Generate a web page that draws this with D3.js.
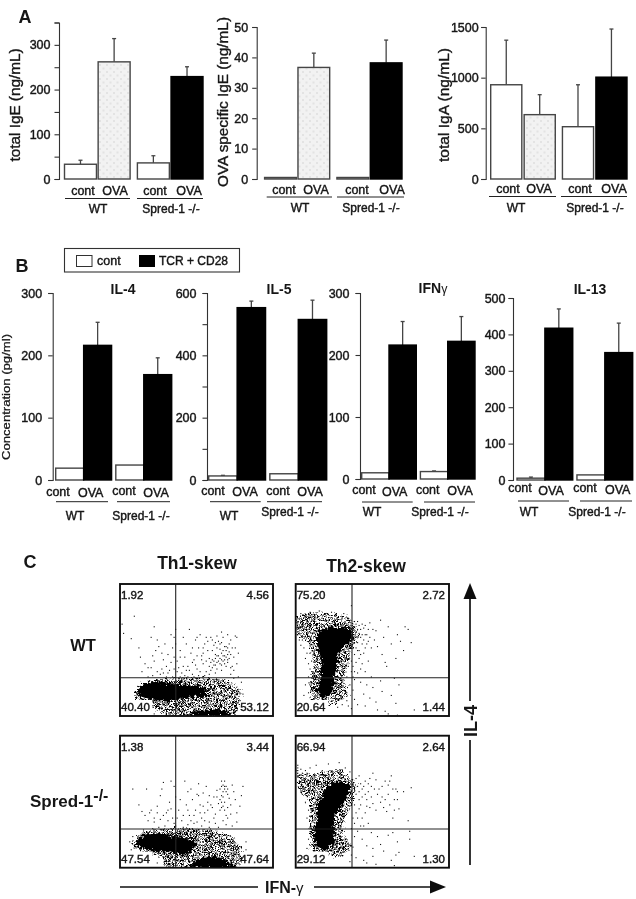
<!DOCTYPE html>
<html><head><meta charset="utf-8">
<style>html,body{margin:0;padding:0;background:#fff}svg{display:block}text{font-family:"Liberation Sans",Arial,sans-serif;fill:#151515}</style>
<script src="https://cdnjs.cloudflare.com/ajax/libs/d3/7.8.5/d3.min.js"></script>
</head><body><svg id="fig" width="636" height="899"></svg>
<script>
// ---------- values ----------
const groups = ["WT", "Spred-1 -/-"];
const treatments = ["cont", "OVA"];

const totalIgE      = [33, 262, 36, 229];
const totalIgEErr   = [42, 314, 52, 251];
const ovaIgE        = [0.5, 36.7, 0.5, 38.2];
const ovaIgEErr     = [0.5, 41.4, 0.5, 45.7];
const totalIgA      = [930, 635, 516, 1005];
const totalIgAErr   = [1370, 832, 930, 1480];
const il4           = [19, 216, 24, 169];
const il4Err        = [19, 253, 24, 196];
const il5           = [13, 553, 20, 515];
const il5Err        = [15, 574, 20, 577];
const ifng          = [10, 216, 12, 222];
const ifngErr       = [10, 254, 13, 262];
const il13          = [5, 417, 14, 350];
const il13Err       = [8, 470, 14, 431];

const quadWtTh1 = ["1.92", "4.56", "40.40", "53.12"];
const quadWtTh2 = ["75.20", "2.72", "20.64", "1.44"];
const quadKoTh1 = ["1.38", "3.44", "47.54", "47.64"];
const quadKoTh2 = ["66.94", "2.64", "29.12", "1.30"];

// flow cytometry events, x = IFN-gamma %, y = IL-4 % of the plot
const wtTh1Dots = [[1,70],[9,76],[2,63],[7,59],[12,52],[13,45],[16,40],[18,37],[20,37],[22,42],[21,46],[23,50],[25,53],[22,68],[20,60],[24,58],[27,48],[28,43],[30,38],[32,35],[33,41],[31,47],[34,52],[35,45],[36,55],[35,60],[30,30],[26,32],[21,31],[18,30],[14,34],[27,36],[29,55],[33,62],[36,66],[37,42],[38,37],[39,50],[40,33],[41,60],[42,45],[43,55],[44,38],[45,66],[46,48],[47,32],[48,43],[49,58],[50,36],[51,52],[52,62],[53,46],[54,40],[55,55],[56,34],[57,50],[58,44],[59,60],[60,37],[61,54],[62,47],[63,41],[64,57],[65,51],[66,35],[67,60],[68,46],[69,53],[70,43],[71,49],[72,58],[73,38],[74,45],[75,52],[76,60],[77,48],[61,42],[62,39],[64,46],[65,44],[66,48],[67,42],[68,40],[69,38],[70,47],[63,52],[66,56],[60,50],[58,38],[56,60],[54,48],[52,34],[48,30],[44,30],[77,30],[79,26],[80,17],[78,12],[81,8],[9,7],[12,5],[18,3],[22,2],[8,12],[28,3],[34,1],[39,30],[55,31],[72,32],[74,29],[42,31],[66,64],[70,62],[75,61],
 [59,41],[60,43],[61,39],[62,44],[63,46],[64,42],[65,40],[66,43],[67,46],[68,43],[69,45],[70,41],[71,44],[72,47],[67,50],[68,53],[69,50],[70,52],[71,55],[73,52],[62,56],[65,55],[60,58],[63,61],[57,57],[54,52],[53,43],[50,46],[49,39],[47,41],[45,35],[41,38],[37,34],[35,36],[31,33],[28,33],[24,34],[39,45],[43,35],[47,52],[50,60],[56,42],[59,35],[63,36],[66,39],[72,37],[74,35],[76,40],[58,32],[62,33],[51,31],[38,29],[34,30]];
const wtTh2Dots = [[1,62],[1,64],[1,66],[1,68],[1,70],[1,72],[1,74],[0.5,67],[0.5,71],[3,78],[6,76],[9,79],[12,74],[15,80],[19,78],[23,79],[27,75],[31,78],[34,74],[36,84],[38,72],[39,70],[40,66],[41,63],[42,60],[44,67],[43,55],[45,52],[46,62],[47,57],[48,71],[44,48],[40,50],[41,44],[43,40],[42,36],[45,34],[40,33],[47,42],[51,58],[52,65],[53,53],[55,73],[57,60],[56,47],[58,41],[60,68],[62,55],[65,44],[66,62],[68,57],[70,50],[73,66],[49,30],[42,26],[46,24],[50,22],[44,17],[48,14],[52,11],[38,28],[37,20],[38,13],[36,6],[40,9],[45,8],[53,5],[56,19],[58,4],[60,2],[62,16],[65,10],[66,1],[55,27],[64,29],[33,12],[31,20],[35,24],[30,9],[27,7],[4,58],[5,52],[7,48],[6,44],[8,40],[9,36],[8,30],[6,24],[5,16],[6,10],[71,68],[75,56],[77,5],[67,24],[59,38],
 [38,68],[39,64],[39,60],[40,72],[41,69],[42,66],[43,62],[43,70],[44,58],[45,62],[45,69],[46,55],[47,66],[48,60],[49,52],[50,66],[38,56],[39,52],[40,56],[41,50],[42,47],[38,47],[39,41],[37,38],[36,34],[38,34],[37,30],[2,74],[4,72],[5,75],[7,72],[8,78],[10,72],[3,68],[6,66],[2,58],[3,54],[9,60],[10,52],[11,47],[10,42],[11,34],[12,28],[33,30],[34,38],[33,44],[36,42],[33,18],[34,8],[30,15],[8,18],[9,12],[7,7],[10,5]];
const koTh1Dots = [[8,60],[17,60],[12,48],[14,43],[16,40],[18,36],[20,44],[22,38],[24,47],[26,55],[27,60],[28,65],[30,42],[31,36],[32,50],[33,45],[34,38],[35,62],[33,66],[36,54],[36,32],[38,44],[39,52],[42,66],[44,58],[43,48],[45,40],[46,60],[47,52],[48,34],[49,44],[50,56],[51,64],[52,48],[53,38],[54,57],[55,42],[56,62],[57,50],[58,35],[60,46],[61,54],[62,41],[63,59],[64,49],[65,44],[66,55],[66,66],[67,36],[68,50],[68,60],[69,62],[70,46],[71,53],[72,41],[73,63],[74,58],[75,52],[76,35],[78,47],[79,55],[80,62],[67,58],[67,54],[66,50],[68,44],[69,40],[68,66],[70,56],[70,38],[47,30],[41,31],[29,32],[25,31],[21,30],[15,29],[82,20],[82,14],[79,8],[84,5],[7,14],[9,9],[12,6],[20,8],[24,4],[8,24],[6,20],
 [65,60],[66,62],[67,63],[68,62],[69,58],[70,60],[66,46],[67,47],[65,52],[63,54],[59,48],[58,55],[57,44],[55,36],[52,42],[50,35],[48,40],[46,36],[44,44],[41,40],[40,36],[37,38],[35,34],[31,44],[28,40],[26,37],[24,42],[22,35],[19,42],[51,55],[54,47],[61,38],[62,34],[73,32],[69,33],[64,31],[58,31],[53,32],[44,33],[33,30],[76,42],[72,48]];
const koTh2Dots = [[1,70],[1,72],[1,74],[1,76],[1,78],[0.5,74],[3,75],[2,66],[5,68],[7,72],[9,76],[13,78],[17,74],[21,79],[24,73],[28,80],[32,76],[35,73],[39,68],[41,70],[42,64],[43,60],[45,66],[47,58],[46,52],[49,62],[48,46],[45,42],[43,38],[41,45],[50,72],[52,67],[53,56],[55,50],[56,62],[58,66],[59,43],[60,56],[61,48],[62,70],[63,38],[64,44],[65,60],[66,52],[70,58],[75,61],[73,36],[74,28],[47,34],[44,32],[49,27],[53,24],[50,15],[46,17],[43,22],[55,18],[57,13],[60,25],[63,27],[40,28],[38,24],[37,16],[36,10],[39,8],[35,5],[44,6],[46,4],[50,9],[52,3],[62,6],[64,2],[65,10],[67,12],[77,9],[83,10],[74,22],[66,20],[4,56],[6,50],[8,44],[7,38],[9,30],[8,22],[7,15],[34,19],[31,12],
 [38,60],[39,56],[40,62],[41,52],[41,58],[42,48],[43,54],[44,62],[45,56],[46,47],[47,64],[48,68],[49,54],[50,49],[51,60],[52,44],[54,60],[56,54],[57,46],[58,52],[60,63],[61,66],[63,60],[64,52],[66,58],[67,45],[38,48],[39,42],[37,38],[38,34],[40,38],[42,32],[36,30],[3,62],[5,60],[6,64],[8,58],[10,54],[11,60],[4,72],[6,74]];

// dense populations, outlines in the same units
const wtTh1Core = [[[10,18],[14,24],[22,26.5],[32,25],[40,24],[50,23],[58,20],[56,15],[45,14],[36,12],[26,11],[16,13]],[[45,0],[72,0],[70,4],[60,5],[48,3]]];
const wtTh1Haze = [[[9,14],[14,25],[26,28],[50,29],[70,27],[79,20],[78,8],[74,0],[30,0],[26,4],[14,8]]];
const wtTh2Core = [[[13.7,64],[22,67],[36.5,66.5],[37.6,59],[29,50],[25.6,32],[24.6,22],[24.6,16],[17,14],[13,19.5],[16,27],[17,40],[14,52.5]]];
const wtTh2Haze = [[[1,76],[15,79],[35,75],[41,62],[36,47],[31,28],[35,16],[24,8],[10,12],[9,25],[12,40],[8,55],[1,62]]];
const koTh1Core = [[[8.7,18],[15,25],[26,26],[35,23.5],[48,22],[50,17],[43,10],[30,12],[17.4,13.4]],[[45,0],[76,0],[70,5],[60,9],[50,6]]];
const koTh1Haze = [[[7,17],[15,27],[35,30],[60,29],[72,24],[79,16],[80,5],[77,0],[30,0],[28,8],[15,11]]];
const koTh2Core = [[[25.6,66],[36.5,62.6],[34,55],[25.6,38.6],[24.6,28.5],[25.6,18.4],[19,13],[12.6,17],[11.5,25],[14,33.6],[13.7,46],[20,61]]];
const koTh2Haze = [[[1,72],[12,71],[28,75],[40,65],[38,52],[30,32],[36,15],[28,8],[10,12],[9,30],[10,48],[3,58]]];

// ---------- layout ----------
const svg = d3.select("#fig");
const defs = svg.append("defs");
defs.append("filter").attr("id","soft").attr("x",0).attr("y",0).attr("width",1).attr("height",1)
  .append("feGaussianBlur").attr("stdDeviation",0.42);
const rough = defs.append("filter").attr("id","rough").attr("x","-5%").attr("y","-5%").attr("width","110%").attr("height","110%");
rough.append("feTurbulence").attr("type","fractalNoise").attr("baseFrequency",0.38).attr("numOctaves",2).attr("seed",4).attr("result","n");
rough.append("feDisplacementMap").attr("in","SourceGraphic").attr("in2","n").attr("scale",9).attr("xChannelSelector","R").attr("yChannelSelector","G");

const stippleA = [[0,0],[3,1],[6,0],[10,1],[13,0],[1,3],[5,3],[8,2],[11,3],[14,3],[2,5],[4,6],[7,5],[9,6],[12,5],[0,7],[3,8],[6,8],[10,8],[14,7],[1,10],[5,10],[8,10],[12,10],[15,10],[3,12],[6,13],[9,12],[13,12],[0,13],[2,15],[5,15],[8,15],[11,14],[14,15]];
const stippleB = [[1,1],[5,0],[9,2],[2,4],[7,4],[11,5],[0,6],[4,7],[9,8],[12,1],[2,9],[6,10],[11,9]];
function pattern(id,cells,w,h){
  const sp = defs.append("pattern").attr("id",id).attr("patternUnits","userSpaceOnUse").attr("width",w).attr("height",h);
  sp.selectAll("rect").data(cells).join("rect").attr("x",d=>d[0]).attr("y",d=>d[1]).attr("width",1.5).attr("height",1.5).attr("fill","#000");
}
pattern("stipA",stippleA,16,16);
pattern("stipB",stippleB,13,11);
const gp = defs.append("pattern").attr("id","ovaFill").attr("patternUnits","userSpaceOnUse").attr("width",7).attr("height",7);
gp.append("rect").attr("width",7).attr("height",7).attr("fill","#f2f2f2");
gp.append("rect").attr("x",1).attr("y",1).attr("width",2).attr("height",2).attr("fill","#e3e3e3");
gp.append("rect").attr("x",4.5).attr("y",4.5).attr("width",2).attr("height",2).attr("fill","#e3e3e3");

const root = svg.append("g").attr("filter","url(#soft)");
root.append("rect").attr("width",636).attr("height",899).attr("fill","#fff");

function label(x,y,str,o={}){
  const t = root.append("text").attr("x",x).attr("y",y).text(str)
    .attr("text-anchor",o.anchor||"middle").attr("font-size",o.size||12)
    .attr("font-weight",o.weight||"normal")
    .style("stroke","#151515").style("stroke-width",o.stroke==null?0.4:o.stroke);
  if(o.len) t.attr("textLength",o.len).attr("lengthAdjust","spacingAndGlyphs");
  if(o.rot) t.attr("transform",`rotate(${o.rot} ${x} ${y})`);
  return t;
}

const panels = [
 {vals:totalIgE,err:totalIgEErr,max:350,y:[179,22.5],x:[64.5,203],ticks:d3.range(0,351,50),show:d3.range(0,301,100),axisX:59,pad:4,gap:0.05,ova:1,
  lx:[83,115,155,189],ly:[195,195,195,195],ul:[[65,130],[137,203]],uly:198.5,gx:[98,171],gy:[213,213],
  yl:{t:"total IgE (ng/mL)",x:20,y:105,len:113}},
 {vals:ovaIgE,err:ovaIgEErr,max:50,y:[179,27],x:[264.6,402],ticks:d3.range(0,51,10),show:d3.range(0,51,10),axisX:256.7,pad:4,gap:0.05,ova:1,
  lx:[284,316,357,392],ly:[194,194,194,194],ul:[[266.7,332],[337,404]],uly:197,gx:[300,371],gy:[212,212],
  yl:{t:"OVA specific IgE (ng/mL)",x:228,y:102,len:170}},
 {vals:totalIgA,err:totalIgAErr,max:1500,y:[179,27],x:[490.7,627],ticks:[0,500,1000,1500],show:[0,500,1000,1500],axisX:485.7,pad:2.5,gap:0.07,ova:1,
  lx:[508,539,580,614],ly:[193,193,193,193],ul:[[489,556],[561,627]],uly:196.5,gx:[516,595],gy:[212,212],
  yl:{t:"total IgA (ng/mL)",x:449,y:105,len:114}},
 {vals:il4,err:il4Err,max:300,y:[480,293],x:[55.7,171.7],ticks:[0,100,200,300],show:[0,100,200,300],axisX:52.7,pad:6,gap:0,
  lx:[58,90.7,124,156],ly:[496,497,495,497],ul:[[56,108],[117,170]],uly:501.7,gx:[75,141],gy:[520,520],
  title:{t:"IL-4",x:123,y:294},yl:{t:"Concentration (pg/ml)",x:10,y:397,len:126,size:10.5}},
 {vals:il5,err:il5Err,max:600,y:[480,293],x:[208.7,326.7],ticks:d3.range(0,601,100),show:[0,200,400,600],axisX:207,pad:6,gap:0,
  lx:[213,245,278,310],ly:[495,496,495,496],ul:[[210,260.7],[267,322]],uly:501.7,gx:[229,290],gy:[520,516],
  title:{t:"IL-5",x:279,y:294}},
 {vals:ifng,err:ifngErr,max:300,y:[479,293],x:[361.7,475],ticks:[0,100,200,300],show:[0,100,200,300],axisX:360,pad:6,gap:0,
  lx:[364,394.7,427.7,460],ly:[494,496,494,495],ul:[[362,412.7],[424,475]],uly:502,gx:[372,440],gy:[516,516],
  title:{t:"IFN",sym:"γ",x:433,y:293}},
 {vals:il13,err:il13Err,max:500,y:[480,298],x:[517,632.7],ticks:d3.range(0,501,100),show:d3.range(0,501,100),axisX:513,pad:3,gap:0,
  lx:[520,551,585,617.7],ly:[492,495,492,494],ul:[[518,569],[580,632]],uly:501,gx:[529,597],gy:[516,516],
  title:{t:"IL-13",x:590,y:294}}
];

panels.forEach(p=>{
  const y = d3.scaleLinear().domain([0,p.max]).range(p.y);
  const outer = d3.scaleBand().domain(groups).range(p.x).paddingInner(p.ova?0.1:0.07);
  const inner = d3.scaleBand().domain(treatments).range([0,outer.bandwidth()]).paddingInner(p.gap);
  const g = root.append("g");
  const rows = p.vals.map((v,i)=>({v,e:p.err[i],group:groups[i>>1],tr:treatments[i%2],i}));
  const xOf = d=>outer(d.group)+inner(d.tr);
  g.selectAll("line.e").data(rows.filter(d=>d.e>d.v)).join("line").attr("class","e")
    .attr("x1",d=>xOf(d)+inner.bandwidth()/2).attr("x2",d=>xOf(d)+inner.bandwidth()/2)
    .attr("y1",d=>y(d.v)).attr("y2",d=>y(d.e)).attr("stroke","#444").attr("stroke-width",1.3);
  g.selectAll("line.c").data(rows.filter(d=>d.e>d.v)).join("line").attr("class","c")
    .attr("x1",d=>xOf(d)+inner.bandwidth()/2-2).attr("x2",d=>xOf(d)+inner.bandwidth()/2+2)
    .attr("y1",d=>y(d.e)).attr("y2",d=>y(d.e)).attr("stroke","#444").attr("stroke-width",1.3);
  g.selectAll("rect").data(rows).join("rect")
    .attr("x",d=>xOf(d)).attr("width",inner.bandwidth())
    .attr("y",d=>y(d.v)).attr("height",d=>y(0)-y(d.v))
    .attr("fill",d=>{
      if(d.tr==="cont") return "#fff";
      if(p.ova && d.group===groups[0]) return "url(#ovaFill)";
      return "#000";})
    .attr("stroke",d=>d.tr==="OVA"&&!(p.ova&&d.group===groups[0])?"#000":"#444")
    .attr("stroke-width",1.4);
  const axis = d3.axisLeft(y).tickValues(p.ticks).tickSizeOuter(0).tickSize(4.5).tickPadding(p.pad)
     .tickFormat(d=>p.show.includes(d)?d:"");
  const ga = root.append("g").attr("transform",`translate(${p.axisX},0)`).call(axis);
  ga.selectAll("path,line").attr("stroke","#333").attr("stroke-width",1.1);
  ga.selectAll("text").attr("font-size",12.5).style("font-family",'"Liberation Sans"').style("stroke","#151515").style("stroke-width",0.4);
  rows.forEach((d,i)=>label(p.lx[i],p.ly[i],d.tr,{size:12.5}));
  p.ul.forEach(u=>root.append("line").attr("x1",u[0]).attr("x2",u[1]).attr("y1",p.uly).attr("y2",p.uly).attr("stroke","#222").attr("stroke-width",1));
  groups.forEach((gr,i)=>label(p.gx[i],p.gy[i],gr,{size:12}));
  if(p.title){
    const t = label(p.title.x,p.title.y,p.title.t,{size:14,weight:"bold",stroke:0});
    if(p.title.sym) t.append("tspan").text(p.title.sym).attr("font-weight","normal").attr("font-size",12.5);
  }
  if(p.yl) label(p.yl.x,p.yl.y,p.yl.t,{size:p.yl.size||14,rot:-90,len:p.yl.len,stroke:p.yl.size?0.25:0.35});
});

label(25,23,"A",{size:18,weight:"bold",stroke:0});
label(22,272,"B",{size:18,weight:"bold",stroke:0});
label(30,568,"C",{size:18,weight:"bold",stroke:0});

root.append("rect").attr("x",64.5).attr("y",248.5).attr("width",175).attr("height",23.5).attr("fill","#fff").attr("stroke","#333").attr("stroke-width",1.1);
root.append("rect").attr("x",76.5).attr("y",255.5).attr("width",15.5).attr("height",11).attr("fill","#fff").attr("stroke","#333").attr("stroke-width",1);
root.append("rect").attr("x",139).attr("y",255).attr("width",16).attr("height",12).attr("fill","#000");
label(97,264.5,treatments[0],{anchor:"start",size:12.5});
label(159,264.5,"TCR + CD28",{anchor:"start",size:12});

const flow = [
 {dots:wtTh1Dots,core:wtTh1Core,haze:wtTh1Haze,q:quadWtTh1,x:[120,273],y:[716,584],vx:175.7,hy:677.7,id:"c1"},
 {dots:wtTh2Dots,core:wtTh2Core,haze:wtTh2Haze,q:quadWtTh2,x:[295.7,449],y:[716,584],vx:352,hy:677.7,id:"c2"},
 {dots:koTh1Dots,core:koTh1Core,haze:koTh1Haze,q:quadKoTh1,x:[120,273],y:[867.7,735.7],vx:175.7,hy:829,id:"c3"},
 {dots:koTh2Dots,core:koTh2Core,haze:koTh2Haze,q:quadKoTh2,x:[295.7,449],y:[867.7,735.7],vx:352,hy:829,id:"c4"}
];
const outline = d3.line();
flow.forEach(f=>{
  const sx = d3.scaleLinear().domain([0,100]).range(f.x);
  const sy = d3.scaleLinear().domain([0,100]).range(f.y);
  defs.append("clipPath").attr("id",f.id).append("rect").attr("x",f.x[0]).attr("y",f.y[1]).attr("width",f.x[1]-f.x[0]).attr("height",f.y[0]-f.y[1]);
  const g = root.append("g").attr("clip-path",`url(#${f.id})`);
  const pts = r=>outline(r.map(d=>[sx(d[0]),sy(d[1])]))+"Z";
  const cloud = g.append("g").attr("filter","url(#rough)");
  cloud.selectAll("path.h").data(f.haze).join("path").attr("class","h").attr("d",pts).attr("fill","url(#stipA)");
  cloud.selectAll("path.m").data(f.haze).join("path").attr("class","m").attr("d",pts).attr("fill","url(#stipB)");
  cloud.selectAll("path.k").data(f.core).join("path").attr("class","k").attr("d",pts).attr("fill","#000");
  g.selectAll("rect.d").data(f.dots).join("rect").attr("class","d")
    .attr("x",d=>sx(d[0])).attr("y",d=>sy(d[1])).attr("width",1.1).attr("height",1.1).attr("fill","#111");
  [[f.x[0]+1.5,f.y[0]-16,31,14],[f.x[1]-31,f.y[0]-16,30,14]].forEach(b=>
    g.append("rect").attr("x",b[0]).attr("y",b[1]).attr("width",b[2]).attr("height",b[3]).attr("fill","#fff"));
  root.append("line").attr("x1",f.vx).attr("x2",f.vx).attr("y1",f.y[1]).attr("y2",f.y[0]).attr("stroke","#222").attr("stroke-width",1.1);
  root.append("line").attr("x1",f.x[0]).attr("x2",f.x[1]).attr("y1",f.hy).attr("y2",f.hy).attr("stroke","#222").attr("stroke-width",1.1);
  root.append("rect").attr("x",f.x[0]).attr("y",f.y[1]).attr("width",f.x[1]-f.x[0]).attr("height",f.y[0]-f.y[1]).attr("fill","none").attr("stroke","#111").attr("stroke-width",1.9);
  label(f.x[0]+1,f.y[1]+15,f.q[0],{anchor:"start",size:11.5});
  label(f.x[1]-4,f.y[1]+15,f.q[1],{anchor:"end",size:11.5});
  label(f.x[0]+1,f.y[0]-5,f.q[2],{anchor:"start",size:11.5});
  label(f.x[1]-4,f.y[0]-5,f.q[3],{anchor:"end",size:11.5});
});
label(197,569,"Th1-skew",{size:17.5,weight:"bold",stroke:0});
label(366,572,"Th2-skew",{size:17.5,weight:"bold",stroke:0});
label(83,651,"WT",{size:16.5,weight:"bold",stroke:0});
const sk = label(30,807,"Spred-1",{anchor:"start",size:17,weight:"bold",stroke:0});
sk.append("tspan").text("-/-").attr("dy",-6).attr("font-size",16);

const ink = "#111";
root.append("line").attr("x1",470).attr("x2",470).attr("y1",596).attr("y2",701).attr("stroke",ink).attr("stroke-width",1.7);
root.append("line").attr("x1",470).attr("x2",470).attr("y1",740).attr("y2",865).attr("stroke",ink).attr("stroke-width",1.7);
root.append("path").attr("d",d3.line()([[470,583],[476.5,599],[463.5,599]])+"Z").attr("fill",ink);
label(477,721,"IL-4",{size:18,weight:"bold",stroke:0,rot:-90});
root.append("line").attr("x1",120).attr("x2",258).attr("y1",887).attr("y2",887).attr("stroke",ink).attr("stroke-width",1.7);
root.append("line").attr("x1",314).attr("x2",434).attr("y1",887).attr("y2",887).attr("stroke",ink).attr("stroke-width",1.7);
root.append("path").attr("d",d3.line()([[446,887],[430,880.5],[430,893.5]])+"Z").attr("fill",ink);
const ifn = label(265,893,"IFN-",{anchor:"start",size:16,weight:"bold",stroke:0});
ifn.append("tspan").text("γ").attr("font-weight","normal").attr("font-size",15);
</script></body></html>
